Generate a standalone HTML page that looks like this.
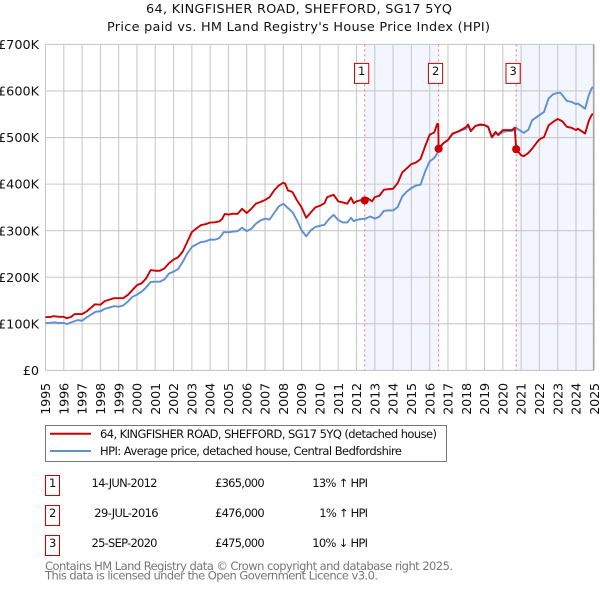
<!DOCTYPE html>
<html>
<head>
<meta charset="utf-8">
<title>64, KINGFISHER ROAD, SHEFFORD, SG17 5YQ</title>
<style>
html,body{margin:0;padding:0;background:#fff;width:600px;height:590px;overflow:hidden}
svg{display:block}
text{font-family:"DejaVu Sans",sans-serif;fill:#111}
.tick{font-size:12.8px}
.title{font-size:12.8px}
.leg{font-size:11.5px}
.tbl{font-size:11.5px}
.foot{font-size:11.5px;fill:#777}
</style>
</head>
<body>
<svg id="chart" xmlns="http://www.w3.org/2000/svg" width="600" height="590" viewBox="0 0 600 590">
  <text class="title" x="146" y="13" textLength="306">64, KINGFISHER ROAD, SHEFFORD, SG17 5YQ</text>
  <text class="title" x="107" y="31" textLength="383">Price paid vs. HM Land Registry's House Price Index (HPI)</text>
  <g id="bands"></g>
  <g id="grid"></g>
  <g id="axis"></g>
  <g id="vlines"></g>
  <g id="series"></g>
  <g id="markers"></g>
  <g id="flags"></g>

  <g>
    <rect x="45.5" y="425.5" width="401" height="36" fill="#fff" stroke="#777" stroke-width="1"/>
    <line x1="50" x2="91" y1="433.7" y2="433.7" stroke="#cc0000" stroke-width="2"/>
    <text class="leg" x="100" y="438" textLength="337">64, KINGFISHER ROAD, SHEFFORD, SG17 5YQ (detached house)</text>
    <line x1="50" x2="91" y1="451" y2="451" stroke="#5e8fd1" stroke-width="2"/>
    <text class="leg" x="100" y="455" textLength="302">HPI: Average price, detached house, Central Bedfordshire</text>
  </g>

  <g fill="none">
    <rect x="45.5" y="475.5" width="14" height="20" fill="#fff" stroke="#cc0000"/>
    <text class="tbl" x="49" y="487">1</text>
    <text class="tbl" x="91.5" y="487" textLength="66">14-JUN-2012</text>
    <text class="tbl" x="215" y="487" textLength="49.7">£365,000</text>
    <text class="tbl" x="312.3" y="487" textLength="55.7">13% ↑ HPI</text>

    <rect x="45.5" y="505.5" width="14" height="20" fill="#fff" stroke="#cc0000"/>
    <text class="tbl" x="49" y="517">2</text>
    <text class="tbl" x="94.3" y="517" textLength="64.3">29-JUL-2016</text>
    <text class="tbl" x="215" y="517" textLength="49.7">£476,000</text>
    <text class="tbl" x="319.3" y="517" textLength="48.7">1% ↑ HPI</text>

    <rect x="45.5" y="535.5" width="14" height="20" fill="#fff" stroke="#cc0000"/>
    <text class="tbl" x="49" y="547">3</text>
    <text class="tbl" x="91.5" y="547" textLength="66">25-SEP-2020</text>
    <text class="tbl" x="215" y="547" textLength="49.7">£475,000</text>
    <text class="tbl" x="312.3" y="547" textLength="55.7">10% ↓ HPI</text>
  </g>

  <text class="foot" x="45" y="570" textLength="408">Contains HM Land Registry data © Crown copyright and database right 2025.</text>
  <text class="foot" x="45" y="579.7" textLength="333">This data is licensed under the Open Government Licence v3.0.</text>
</svg>
<script>
const yearTicks = [1995,1996,1997,1998,1999,2000,2001,2002,2003,2004,2005,2006,2007,2008,2009,2010,2011,2012,2013,2014,2015,2016,2017,2018,2019,2020,2021,2022,2023,2024,2025];
const valueTicks = [0,100,200,300,400,500,600,700];
const valueTickLabels = ["£0","£100K","£200K","£300K","£400K","£500K","£600K","£700K"];
const minorValueTicks = [25,50,75,125,150,175,225,250,275,325,350,375,425,450,475,525,550,575,625,650,675];
const saleDates = [2012.45,2016.49,2020.73];
const salePrices = [365,476,475];
const saleLabels = ["1","2","3"];
const propertyDates = [1995,1995.25,1995.45,1995.75,1996,1996.17,1996.4,1996.6,1997,1997.25,1997.5,1997.7,1998,1998.25,1998.5,1998.75,1999,1999.25,1999.5,1999.75,2000,2000.25,2000.5,2000.75,2001,2001.25,2001.5,2001.75,2002,2002.25,2002.5,2002.75,2003,2003.25,2003.5,2003.75,2004,2004.25,2004.5,2004.65,2004.8,2005,2005.25,2005.5,2005.75,2006,2006.25,2006.5,2006.75,2007,2007.25,2007.5,2007.75,2008,2008.1,2008.25,2008.5,2008.75,2009,2009.25,2009.5,2009.75,2010,2010.25,2010.4,2010.75,2011,2011.25,2011.5,2011.7,2011.85,2012,2012.25,2012.45,2012.6,2012.85,2013,2013.25,2013.5,2013.75,2014,2014.25,2014.5,2014.75,2015,2015.25,2015.5,2015.75,2016,2016.25,2016.42,2016.47,2016.49,2016.75,2017,2017.25,2017.5,2017.75,2018,2018.1,2018.25,2018.5,2018.75,2019,2019.2,2019.4,2019.6,2019.75,2020,2020.25,2020.5,2020.65,2020.73,2021,2021.15,2021.4,2021.6,2021.85,2022,2022.25,2022.5,2022.75,2023,2023.25,2023.5,2023.75,2024,2024.1,2024.5,2024.7,2024.85,2024.92];
const propertyValues = [114.5,114.5,116.5,115,115,112,115,121,121,126.7,135,142,141,149,152,155,155,155,162,172.5,183,187,197.5,215.5,214,214,219,230,238,243,255,276,297,305,312,314,317.5,318,320,325,336,334.5,336.5,336,347,338,347,358,361.5,366,372,386.6,397,403,401,386.6,383,365,350,327.7,339,350,353.5,359,372,377,363,360.6,358,371,359,363,365.6,365.6,370,363,372,375,388,389,390,402,425,434,443,446.5,453.7,481,506,511,529.6,529,476.6,488,495,508.6,512,517,523,528,514,525,528,527,523,501,512,506,516,516,516,521,475,462,460,467,476,489,496,501,526,533.6,540,535,523,521,516,519,508.6,536,548,551.5];
const hpiDates = [1995,1995.5,1995.75,1996,1996.17,1996.5,1996.75,1997,1997.25,1997.5,1997.75,1998,1998.25,1998.5,1998.75,1999,1999.25,1999.5,1999.75,2000,2000.25,2000.5,2000.75,2001,2001.25,2001.5,2001.75,2002,2002.25,2002.5,2002.75,2003,2003.25,2003.5,2003.75,2004,2004.25,2004.5,2004.75,2005,2005.25,2005.5,2005.75,2006,2006.25,2006.5,2006.75,2007,2007.25,2007.5,2007.75,2008,2008.25,2008.5,2008.75,2009,2009.25,2009.5,2009.75,2010,2010.25,2010.5,2010.75,2011,2011.25,2011.5,2011.7,2011.85,2012,2012.25,2012.5,2012.75,2013,2013.25,2013.5,2013.75,2014,2014.25,2014.5,2014.75,2015,2015.25,2015.5,2015.75,2016,2016.25,2016.5,2016.75,2017,2017.25,2017.5,2017.75,2018,2018.1,2018.25,2018.5,2018.75,2019,2019.2,2019.4,2019.6,2019.75,2020,2020.25,2020.5,2020.7,2021,2021.15,2021.4,2021.6,2022,2022.25,2022.5,2022.75,2023,2023.15,2023.5,2023.75,2024,2024.1,2024.5,2024.7,2024.85,2024.92];
const hpiValues = [101.6,103,101.6,102,99.5,104.5,108,106.6,114,120,126,127,132.4,135,138,136.7,139.6,147.5,158,162.5,169,178,190,190.4,190.4,195.4,208,212,217.6,233,251,265,270.6,275.5,277,281,280.6,284,297,296.4,298,299,306.4,299,304,315,322,326,324,338,352,358,348.7,340,322,300.7,288,300.7,308,310.5,312.7,325,334,323,317.7,317.7,327.7,320.5,323,325,326,330.6,326,330,342.7,343.5,343.5,350.6,373.5,384,391.4,397,398.6,427,448.7,456,471.6,488,494,507,512,515.7,519,526.5,513.6,525,526.5,526.5,521.5,500,508.6,505,512,514,514,521.5,513.6,510,517,537,548,555,584,593,596,596,578.7,576.6,571.6,573,562,591,605,609];

const NS = 'http://www.w3.org/2000/svg';
const plotLeft = 45.5, plotRight = 594.3, plotTop = 44.4, plotBottom = 370.4;
const dataEnd = 2024.95;
function xPos(year){ return plotLeft + (year - 1995) * (plotRight - plotLeft) / 30; }
function yPos(value){ return plotBottom - value * (plotBottom - plotTop) / 700; }
function make(tag, parentId, attrs){
  const el = document.createElementNS(NS, tag);
  for (const k in attrs) el.setAttribute(k, attrs[k]);
  document.getElementById(parentId).appendChild(el);
  return el;
}

// shaded ownership bands
[[saleDates[0], saleDates[1]], [saleDates[2], dataEnd]].forEach(function(pair){
  const band = make('rect', 'bands', {x: xPos(pair[0]), y: plotTop, width: xPos(pair[1]) - xPos(pair[0]), height: plotBottom - plotTop, fill: '#f3f6fe'});
  
  
});

// grid and tick labels
yearTicks.forEach(function(year){
  const x = xPos(year);
  const line = make('line', 'grid', {x1: x, x2: x, y1: plotTop, y2: plotBottom, stroke: '#c9c9c9', 'stroke-width': 1.1});
  
  
  const label = make('text', 'axis', {x: 0, y: 0, class: 'tick', transform: 'translate(' + (x + 4.6) + ',414.8) rotate(-90)', textLength: 32});
  label.textContent = String(year);
  
  
});
valueTicks.forEach(function(value, i){
  const y = yPos(value);
  const line = make('line', 'grid', {x1: plotLeft, x2: plotRight, y1: y, y2: y, stroke: '#c9c9c9', 'stroke-width': 1.1});
  
  
  const label = make('text', 'axis', {x: 39, y: y + 4.6, class: 'tick', 'text-anchor': 'end'});
  label.textContent = valueTickLabels[i];
  
  
});

// right-hand axis rule with minor ticks
const rightRule = make('line', 'grid', {x1: xPos(dataEnd), x2: xPos(dataEnd), y1: plotTop, y2: plotBottom, stroke: '#999', 'stroke-width': 1});


minorValueTicks.forEach(function(value){
  const tick = make('line', 'grid', {x1: xPos(dataEnd), x2: plotRight, y1: yPos(value), y2: yPos(value), stroke: '#bbb', 'stroke-width': 1});
  
  
});

// dotted sale-date lines
saleDates.forEach(function(date){
  const line = make('line', 'vlines', {x1: xPos(date), x2: xPos(date), y1: plotTop, y2: plotBottom, stroke: '#ff6b6b', 'stroke-width': 1, 'stroke-dasharray': '2 3'});
  
  
});

// series
function pathFrom(dates, values){
  return dates.map(function(d, i){ return (i ? 'L' : 'M') + xPos(d).toFixed(2) + ' ' + yPos(values[i]).toFixed(2); }).join('');
}
const hpiLine = make('path', 'series', {d: pathFrom(hpiDates, hpiValues), fill: 'none', stroke: '#5e8fd1', 'stroke-width': 1.9, 'stroke-linejoin': 'round'});


const propertyLine = make('path', 'series', {d: pathFrom(propertyDates, propertyValues), fill: 'none', stroke: '#cc0000', 'stroke-width': 1.9, 'stroke-linejoin': 'round'});



// sale markers and flags
saleDates.forEach(function(date, i){
  const dot = make('circle', 'markers', {cx: xPos(date), cy: yPos(salePrices[i]), r: 4.1, fill: '#cc0000'});
  
  
  const flag = make('rect', 'flags', {x: xPos(date) - 10.2, y: 63.4, width: 14.2, height: 20, fill: '#fff', stroke: '#cc0000', 'stroke-width': 1});
  
  
  const label = make('text', 'flags', {x: xPos(date) - 3, y: 75, 'text-anchor': 'middle', style: 'font-size:11.5px'});
  label.textContent = saleLabels[i];
  
  
});
</script>
</body>
</html>
